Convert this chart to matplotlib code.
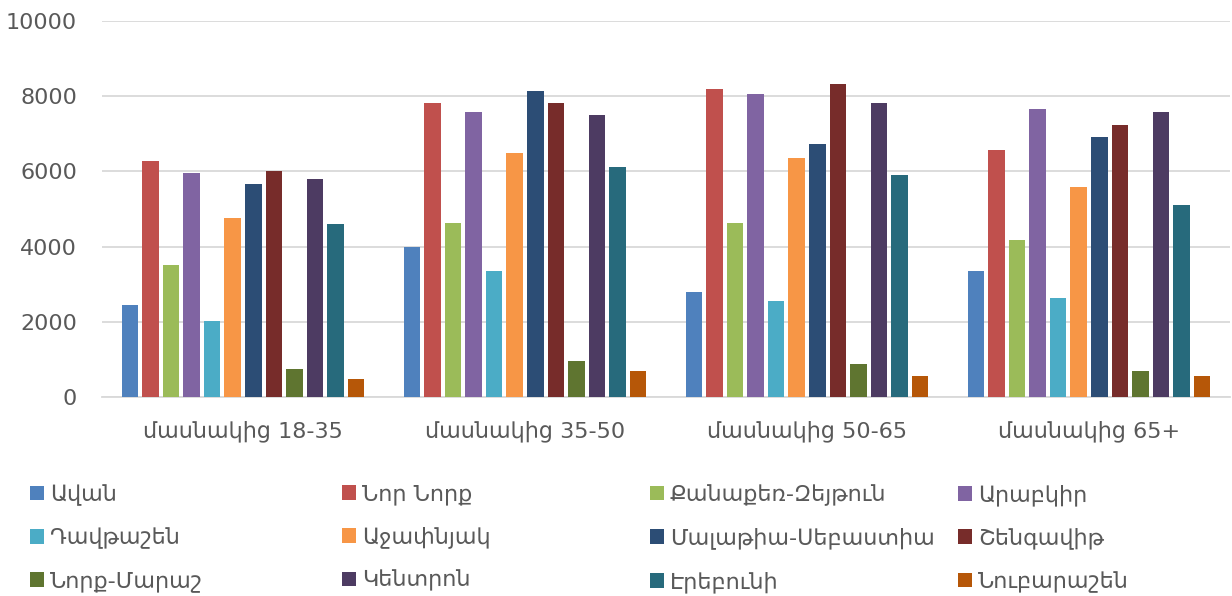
import matplotlib
matplotlib.use("Agg")
import matplotlib.pyplot as plt
import numpy as np

plt.rcParams['font.family'] = ['DejaVu Sans']

groups = ["մասնակից 18-35", "մասնակից 35-50", "մասնակից 50-65", "մասնակից 65+"]
districts = ["Ավան", "Նոր Նորք", "Քանաքեռ-Զեյթուն", "Արաբկիր",
             "Դավթաշեն", "Աջափնյակ", "Մալաթիա-Սեբաստիա", "Շենգավիթ",
             "Նորք-Մարաշ", "Կենտրոն", "Էրեբունի", "Նուբարաշեն"]

avan = [2440, 4000, 2800, 3360]
nor_nork = [6270, 7830, 8200, 6580]
kanaker = [3510, 4640, 4640, 4180]
arabkir = [5970, 7570, 8060, 7670]
davtashen = [2020, 3360, 2560, 2640]
ajapnyak = [4760, 6500, 6350, 5590]
malatia = [5670, 8130, 6730, 6920]
shengavit = [6000, 7830, 8330, 7230]
nork_marash = [740, 960, 890, 690]
kentron = [5800, 7490, 7820, 7570]
erebuni = [4600, 6110, 5900, 5100]
nubarashen = [470, 690, 550, 550]

series = [avan, nor_nork, kanaker, arabkir, davtashen, ajapnyak,
          malatia, shengavit, nork_marash, kentron, erebuni, nubarashen]
colors = ["#4F81BD", "#C0504D", "#9BBB59", "#8064A2", "#4BACC6", "#F79646",
          "#2C4D75", "#772C2A", "#5F7530", "#4D3B62", "#276A7C", "#B65708"]

fig = plt.figure(figsize=(12.32, 5.96), dpi=100)
ax = fig.add_axes([102/1232, 1 - 397/596, (1230 - 102)/1232, (397 - 21)/596])

x = np.arange(len(groups))
slot = 0.073
handles = []
for i, (vals, c) in enumerate(zip(series, colors)):
    h = ax.bar(x + (i - 5.5) * slot, vals, width=slot * 0.8, color=c,
               label=districts[i], zorder=3)
    handles.append(h)

ax.set_xlim(-0.5, len(groups) - 0.5)
ax.set_ylim(0, 10000)
ax.set_yticks(range(0, 10001, 2000))
ax.set_xticks(x)
ax.set_xticklabels(groups)
ax.tick_params(axis='both', length=0, labelsize=16, colors="#595959")
ax.tick_params(axis='y', pad=18)
ax.tick_params(axis='x', pad=17)
ax.grid(axis='y', color="#D9D9D9", linewidth=1.3, zorder=0)
for s in ['top', 'right', 'left']:
    ax.spines[s].set_visible(False)
ax.spines['bottom'].set_color("#D9D9D9")
ax.spines['bottom'].set_linewidth(1.3)

# legend: 4 columns, 3 rows, filled row by row
col_x = [30, 342, 650, 958]
for c in range(4):
    idx = [r * 4 + c for r in range(3)]
    leg = fig.legend([handles[k] for k in idx], [districts[k] for k in idx],
                     loc='upper left', bbox_to_anchor=(col_x[c]/1232, 1 - 484/596),
                     frameon=False, fontsize=16, handlelength=0.65, handleheight=0.65,
                     handletextpad=0.25, labelspacing=0.98, borderpad=0,
                     borderaxespad=0)
    for t in leg.get_texts():
        t.set_color("#595959")

fig.savefig("out.png", dpi=100)
